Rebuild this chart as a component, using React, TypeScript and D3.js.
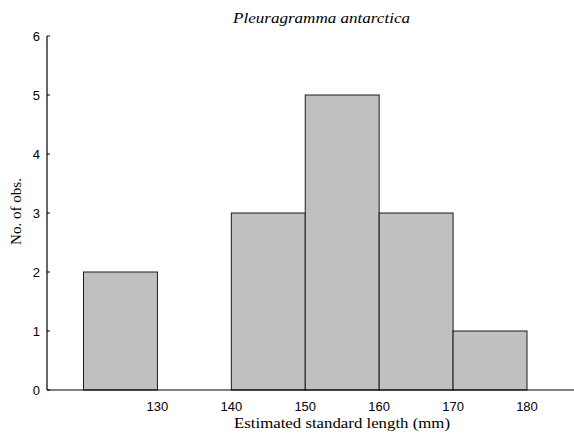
import React from "react";
import * as d3 from "d3";

const binStarts = [120, 130, 140, 150, 160, 170];
const counts = [2, 0, 3, 5, 3, 1];
const binWidth = 10;
const xTicks = [130, 140, 150, 160, 170, 180];
const yTicks = [0, 1, 2, 3, 4, 5, 6];

const W = 574;
const H = 435;

const SERIF = "'Liberation Serif', 'Times New Roman', serif";
const SANS = "'Liberation Sans', Arial, sans-serif";

export default function App() {
  const x = d3.scaleLinear().domain([120, 180]).range([83.5, 527]);
  const y = d3.scaleLinear().domain([0, 6]).range([390, 36]);
  const axisX = 47;
  return (
    <svg width={W} height={H} style={{ position: "absolute", left: 0, top: 0 }}>
      <rect width={W} height={H} fill="#fff" />
      {binStarts.map((b, i) =>
        counts[i] > 0 ? (
          <rect
            key={b}
            x={x(b)}
            y={y(counts[i])}
            width={x(b + binWidth) - x(b)}
            height={y(0) - y(counts[i])}
            fill="#c0c0c0"
            stroke="#1a1a1a"
            strokeWidth={1}
          />
        ) : null
      )}
      <line x1={axisX} x2={axisX} y1={y(6)} y2={y(0)} stroke="#000" strokeWidth={1.2} />
      <line x1={axisX} x2={W} y1={y(0)} y2={y(0)} stroke="#000" strokeWidth={1.2} />
      {yTicks.map((t) => (
        <g key={t}>
          <line x1={axisX} x2={axisX + 3} y1={y(t)} y2={y(t)} stroke="#000" strokeWidth={1} />
          <text
            x={40}
            y={y(t)}
            dy="0.35em"
            textAnchor="end"
            fontFamily={SANS}
            fontSize={13}
            fill="#000"
          >
            {t}
          </text>
        </g>
      ))}
      {xTicks.map((t) => (
        <text
          key={t}
          x={x(t)}
          y={411}
          textAnchor="middle"
          fontFamily={SANS}
          fontSize={13}
          fill="#000"
        >
          {t}
        </text>
      ))}
      <text
        x={233}
        y={23}
        fontFamily={SERIF}
        fontStyle="italic"
        fontSize={15}
        textLength={177}
        lengthAdjust="spacingAndGlyphs"
        fill="#000"
      >
        Pleuragramma antarctica
      </text>
      <text
        x={234}
        y={428}
        fontFamily={SERIF}
        fontSize={15}
        textLength={216}
        lengthAdjust="spacingAndGlyphs"
        fill="#000"
      >
        Estimated standard length (mm)
      </text>
      <text
        transform={`translate(21, 245) rotate(-90)`}
        fontFamily={SERIF}
        fontSize={14}
        textLength={67}
        lengthAdjust="spacingAndGlyphs"
        fill="#000"
      >
        No. of obs.
      </text>
    </svg>
  );
}
